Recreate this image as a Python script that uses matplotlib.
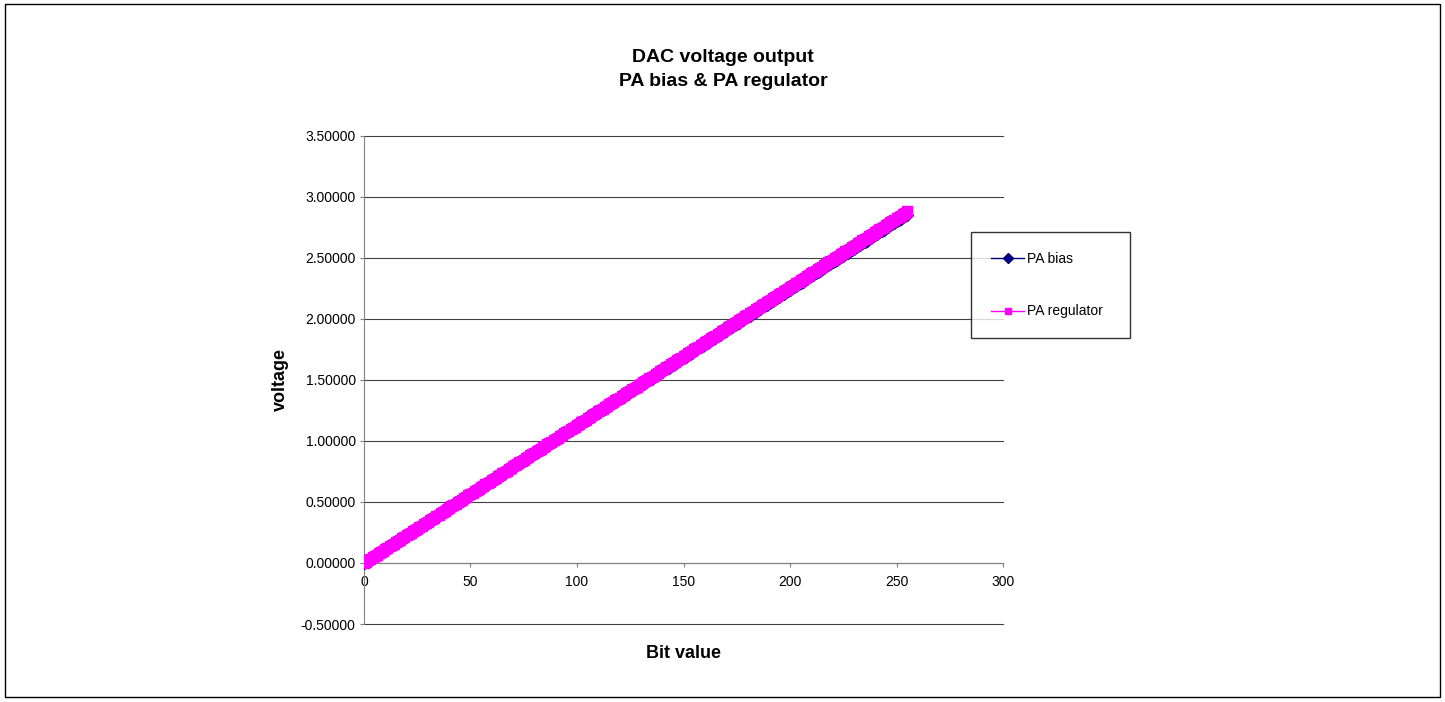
import numpy as np
import matplotlib
matplotlib.use('Agg')
import matplotlib.pyplot as plt
from matplotlib.patches import Rectangle
from matplotlib.ticker import FormatStrFormatter

plt.rcParams['font.family'] = ['Liberation Sans', 'DejaVu Sans']

# bit value 0..255
bits = list(range(256))

pa_bias = [
    0, 112, 224, 336, 448, 560, 672, 784, 896, 1008, 1120, 1232, 1344, 1456, 1568, 1680,
    1792, 1904, 2016, 2128, 2240, 2352, 2464, 2576, 2688, 2800, 2912, 3024, 3136, 3248, 3360, 3472,
    3584, 3696, 3808, 3920, 4032, 4144, 4256, 4368, 4480, 4592, 4704, 4816, 4928, 5040, 5152, 5264,
    5376, 5488, 5600, 5712, 5824, 5936, 6048, 6160, 6272, 6384, 6496, 6608, 6720, 6832, 6944, 7056,
    7168, 7280, 7392, 7504, 7616, 7728, 7840, 7952, 8064, 8176, 8288, 8400, 8512, 8624, 8736, 8848,
    8960, 9072, 9184, 9296, 9408, 9520, 9632, 9744, 9856, 9968, 10080, 10192, 10304, 10416, 10528, 10640,
    10752, 10864, 10976, 11088, 11200, 11312, 11424, 11536, 11648, 11760, 11872, 11984, 12096, 12208, 12320, 12432,
    12544, 12656, 12768, 12880, 12992, 13104, 13216, 13328, 13440, 13552, 13664, 13776, 13888, 14000, 14112, 14224,
    14336, 14448, 14560, 14672, 14784, 14896, 15008, 15120, 15232, 15344, 15456, 15568, 15680, 15792, 15904, 16016,
    16128, 16240, 16352, 16464, 16576, 16688, 16800, 16912, 17024, 17136, 17248, 17360, 17472, 17584, 17696, 17808,
    17920, 18032, 18144, 18256, 18368, 18480, 18592, 18704, 18816, 18928, 19040, 19152, 19264, 19376, 19488, 19600,
    19712, 19824, 19936, 20048, 20160, 20272, 20384, 20496, 20608, 20720, 20832, 20944, 21056, 21168, 21280, 21392,
    21504, 21616, 21728, 21840, 21952, 22064, 22176, 22288, 22400, 22512, 22624, 22736, 22848, 22960, 23072, 23184,
    23296, 23408, 23520, 23632, 23744, 23856, 23968, 24080, 24192, 24304, 24416, 24528, 24640, 24752, 24864, 24976,
    25088, 25200, 25312, 25424, 25536, 25648, 25760, 25872, 25984, 26096, 26208, 26320, 26432, 26544, 26656, 26768,
    26880, 26992, 27104, 27216, 27328, 27440, 27552, 27664, 27776, 27888, 28000, 28112, 28224, 28336, 28448, 28560,
]

pa_regulator = [
    0, 113, 226, 339, 452, 565, 678, 791, 904, 1017, 1130, 1243, 1356, 1469, 1582, 1695,
    1808, 1921, 2034, 2147, 2260, 2373, 2486, 2599, 2712, 2825, 2938, 3051, 3164, 3277, 3390, 3503,
    3616, 3729, 3842, 3955, 4068, 4181, 4294, 4407, 4520, 4633, 4746, 4859, 4972, 5085, 5198, 5311,
    5424, 5537, 5650, 5763, 5876, 5989, 6102, 6215, 6328, 6441, 6554, 6667, 6780, 6893, 7006, 7119,
    7232, 7345, 7458, 7571, 7684, 7797, 7910, 8023, 8136, 8249, 8362, 8475, 8588, 8701, 8814, 8927,
    9040, 9153, 9266, 9379, 9492, 9605, 9718, 9831, 9944, 10057, 10170, 10283, 10396, 10509, 10622, 10735,
    10848, 10961, 11074, 11187, 11300, 11413, 11526, 11639, 11752, 11865, 11978, 12091, 12204, 12317, 12430, 12543,
    12656, 12769, 12882, 12995, 13108, 13221, 13334, 13447, 13560, 13673, 13786, 13899, 14012, 14125, 14238, 14351,
    14464, 14577, 14690, 14803, 14916, 15029, 15142, 15255, 15368, 15481, 15594, 15707, 15820, 15933, 16046, 16159,
    16272, 16385, 16498, 16611, 16724, 16837, 16950, 17063, 17176, 17289, 17402, 17515, 17628, 17741, 17854, 17967,
    18080, 18193, 18306, 18419, 18532, 18645, 18758, 18871, 18984, 19097, 19210, 19323, 19436, 19549, 19662, 19775,
    19888, 20001, 20114, 20227, 20340, 20453, 20566, 20679, 20792, 20905, 21018, 21131, 21244, 21357, 21470, 21583,
    21696, 21809, 21922, 22035, 22148, 22261, 22374, 22487, 22600, 22713, 22826, 22939, 23052, 23165, 23278, 23391,
    23504, 23617, 23730, 23843, 23956, 24069, 24182, 24295, 24408, 24521, 24634, 24747, 24860, 24973, 25086, 25199,
    25312, 25425, 25538, 25651, 25764, 25877, 25990, 26103, 26216, 26329, 26442, 26555, 26668, 26781, 26894, 27007,
    27120, 27233, 27346, 27459, 27572, 27685, 27798, 27911, 28024, 28137, 28250, 28363, 28476, 28589, 28702, 28815,
]

x_ticks = [0, 50, 100, 150, 200, 250, 300]
y_ticks = [-0.5, 0.0, 0.5, 1.0, 1.5, 2.0, 2.5, 3.0, 3.5]

W, H = 1445, 702
fig = plt.figure(figsize=(W / 100, H / 100), dpi=100)

# outer chart border
fig.patches.append(Rectangle((5 / W, 1 - 697 / H), 1435 / W, 693 / H,
                             transform=fig.transFigure, fill=False,
                             edgecolor='black', linewidth=1.0))

ax = fig.add_axes([364 / W, 1 - 624 / H, 639 / W, 488 / H])

bias_v = np.array(pa_bias) / 10000.0
reg_v = np.array(pa_regulator) / 10000.0

ax.plot(bits, bias_v, color='#000080', marker='D', markersize=6.5,
        linewidth=1.0, label='PA bias', zorder=3)
ax.plot(bits, reg_v, color='#FF00FF', marker='s', markersize=6.5,
        linewidth=1.0, label='PA regulator', zorder=4)

ax.set_xlim(0, 300)
ax.set_ylim(-0.5, 3.5)
ax.set_xticks(x_ticks)
ax.set_yticks(y_ticks)
ax.yaxis.set_major_formatter(FormatStrFormatter('%.5f'))

ax.grid(axis='y', color='#404040', linewidth=0.8, zorder=0)
ax.set_axisbelow(True)
for gl in ax.get_ygridlines():
    gl.set_clip_on(False)

for s in ['top', 'right']:
    ax.spines[s].set_visible(False)
ax.spines['bottom'].set_position(('data', 0))
ax.spines['bottom'].set_color('#808080')
ax.spines['left'].set_color('#808080')
ax.spines['bottom'].set_zorder(1)
ax.tick_params(axis='both', direction='out', length=3, width=0.8,
               color='#808080', labelsize=10)
ax.tick_params(axis='y', pad=3)
ax.tick_params(axis='x', pad=6)

ax.set_xlabel('Bit value', fontsize=13, fontweight='bold')
ax.xaxis.set_label_coords((683 - 364) / 639, (624 - 645) / 488)
ax.set_ylabel('voltage', fontsize=13, fontweight='bold')
ax.yaxis.set_label_coords((289 - 364) / 639, (624 - 380) / 488)

fig.text(723 / W, 1 - 57 / H, 'DAC voltage output', ha='center', va='center',
         fontsize=14, fontweight='bold')
fig.text(723 / W, 1 - 81 / H, 'PA bias & PA regulator', ha='center', va='center',
         fontsize=14, fontweight='bold')

leg = ax.legend(loc='upper left',
                bbox_to_anchor=(971 / W, 1 - 337 / H, 159 / W, 105 / H),
                bbox_transform=fig.transFigure, mode='expand',
                fontsize=10, frameon=True, fancybox=False, borderpad=1.43,
                labelspacing=2.78, handlelength=2.4, handletextpad=0.2,
                borderaxespad=0)
leg.get_frame().set_edgecolor('black')
leg.get_frame().set_linewidth(1.0)
for h in leg.legend_handles:
    h.set_markersize(5)

fig.savefig('out.png', dpi=100)
